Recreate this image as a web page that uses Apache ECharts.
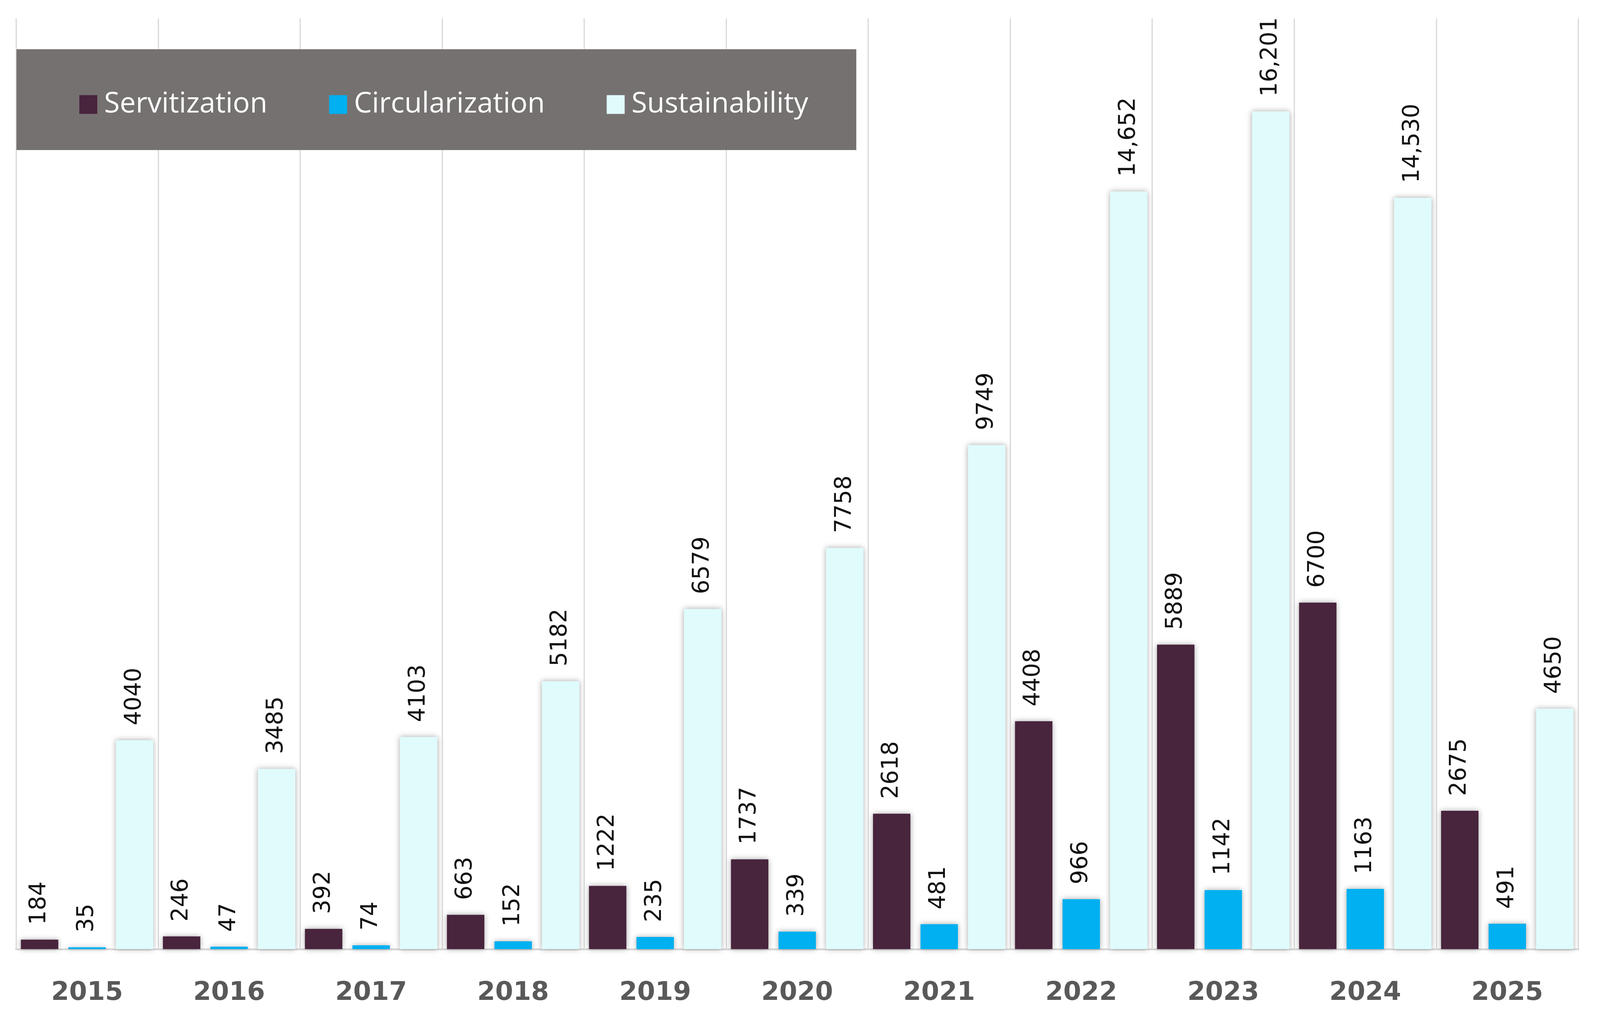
<!DOCTYPE html>
<html>
<head>
<meta charset="utf-8">
<script src="https://cdn.jsdelivr.net/npm/echarts@6/dist/echarts.min.js"></script>
<style>
html,body{margin:0;padding:0;background:#fff;overflow:hidden;}
#chart{width:100vw;height:100vh;}
</style>
</head>
<body>
<div id="chart"></div>
<script>
const years = ['2015','2016','2017','2018','2019','2020','2021','2022','2023','2024','2025'];
const servitization = [184, 246, 392, 663, 1222, 1737, 2618, 4408, 5889, 6700, 2675];
const circularization = [35, 47, 74, 152, 235, 339, 481, 966, 1142, 1163, 491];
const sustainability = [4040, 3485, 4103, 5182, 6579, 7758, 9749, 14652, 16201, 14530, 4650];
const seriesNames = ['Servitization', 'Circularization', 'Sustainability'];
const colors = ['#48243D', '#00B0F0', '#E0FBFB'];

function fmt(v) {
  return v >= 10000 ? v.toLocaleString('en-US') : String(v);
}

const W = window.innerWidth, H = window.innerHeight;
const sx = W / 4277, sy = H / 2613;

const labelCfg = {
  show: true,
  position: 'top',
  rotate: 90,
  align: 'left',
  verticalAlign: 'middle',
  distance: 38 * sy,
  color: '#111',
  fontFamily: 'DejaVu Sans',
  fontSize: 58 * sy,
  formatter: p => fmt(p.value)
};

function mkSeries(name, data, color) {
  return {
    name: name,
    type: 'bar',
    data: data,
    barWidth: 100 * sx,
    barGap: '27%',
    itemStyle: {
      color: color,
      shadowBlur: 14 * sy,
      shadowColor: 'rgba(0,0,0,0.35)',
      shadowOffsetX: 0,
      shadowOffsetY: 0
    },
    label: labelCfg
  };
}

const chart = echarts.init(document.getElementById('chart'));
chart.setOption({
  backgroundColor: '#ffffff',
  animation: false,
  color: colors,
  grid: { left: 43 * sx, right: 58 * sx, top: 47 * sy, bottom: 184 * sy, containLabel: false },
  graphic: [{
    type: 'rect',
    z: 3,
    shape: { x: 44 * sx, y: 126 * sy, width: 2245 * sx, height: 258 * sy },
    style: { fill: '#767171' },
    silent: true
  }],
  legend: {
    left: 212 * sx,
    top: 231 * sy,
    orient: 'horizontal',
    padding: 0,
    z: 5,
    itemWidth: 48 * sx,
    itemHeight: 48 * sy,
    itemGap: 165 * sx,
    icon: 'rect',
    textStyle: {
      color: '#ffffff',
      fontFamily: 'Open Sans',
      fontSize: 73 * sy,
      lineHeight: 48 * sy,
      padding: [0, 0, 0, 13 * sx]
    },
    data: seriesNames
  },
  xAxis: {
    type: 'category',
    data: years,
    boundaryGap: true,
    axisLine: { show: true, lineStyle: { color: '#D9D9D9', width: 5 } },
    axisTick: { show: false },
    splitLine: { show: true, lineStyle: { color: '#D9D9D9', width: 3 } },
    axisLabel: {
      margin: 80 * sy,
      color: '#595959',
      fontFamily: 'DejaVu Sans',
      fontWeight: 'bold',
      fontSize: 66
    }
  },
  yAxis: {
    type: 'value',
    min: 0,
    max: 18000,
    interval: 2000,
    show: false,
    splitLine: { show: false }
  },
  series: [
    mkSeries(seriesNames[0], servitization, colors[0]),
    mkSeries(seriesNames[1], circularization, colors[1]),
    mkSeries(seriesNames[2], sustainability, colors[2])
  ]
});
</script>
</body>
</html>
